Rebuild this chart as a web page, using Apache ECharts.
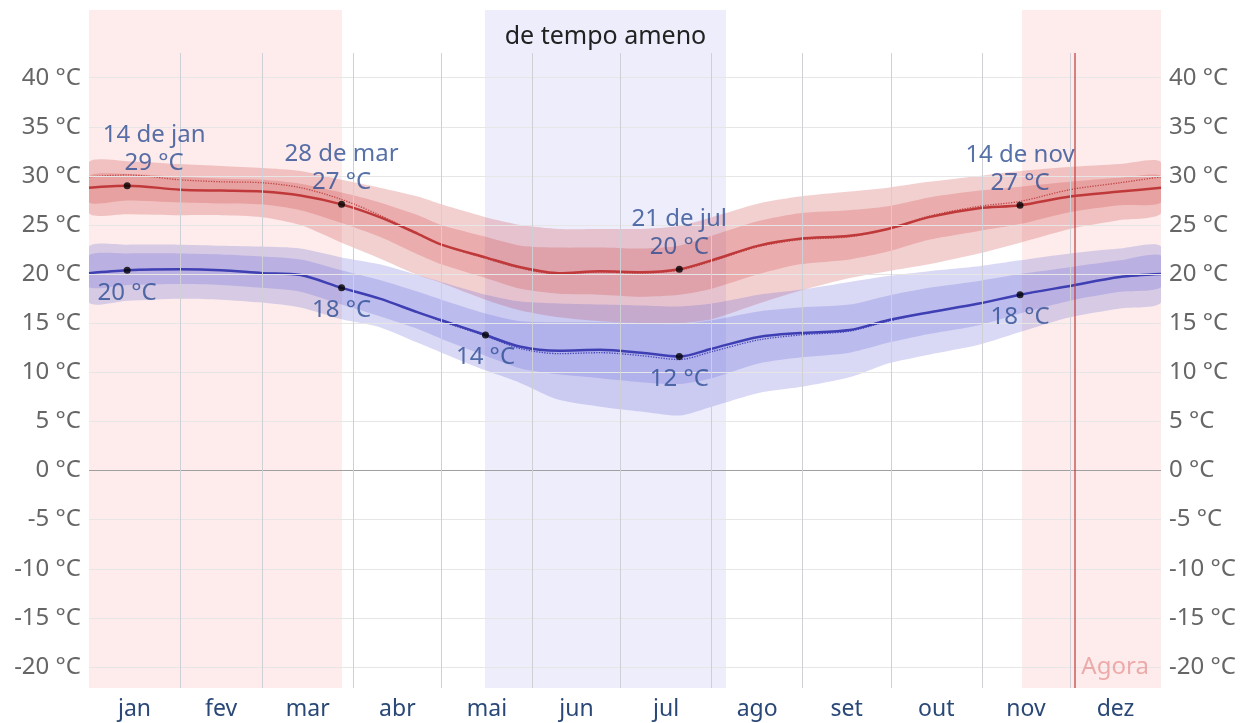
<!DOCTYPE html>
<html>
<head>
<meta charset="utf-8">
<script src="https://cdn.jsdelivr.net/npm/echarts@6.0.0/dist/echarts.min.js"></script>
<style>
html,body{margin:0;padding:0;background:#fff;}
#chart{width:1245px;height:723px;}
</style>
</head>
<body>
<div id="chart"></div>
<script>
// ---- data (day of year) ----
const days      = [0, 13, 31, 45, 59, 72, 86, 99, 112, 120, 135, 147, 160, 174, 188, 201, 212, 228, 242, 259, 272, 286, 303, 317, 334, 351, 365];
const highAvg   = [28.8, 29.0, 28.6, 28.5, 28.4, 28.0, 27.1, 25.8, 24.1, 23.0, 21.7, 20.7, 20.1, 20.3, 20.2, 20.5, 21.4, 22.9, 23.6, 23.9, 24.6, 25.8, 26.7, 27.0, 27.9, 28.4, 28.8];
const highP90   = [31.4, 31.5, 31.2, 31.0, 30.8, 30.5, 29.6, 28.8, 27.9, 27.1, 25.8, 25.0, 24.6, 24.6, 24.6, 24.9, 25.8, 27.2, 27.9, 28.4, 28.8, 29.4, 30.0, 30.5, 30.9, 31.2, 31.4];
const highP75   = [30.0, 30.2, 29.9, 29.7, 29.6, 29.2, 28.3, 27.3, 26.0, 25.0, 23.8, 22.9, 22.7, 22.7, 22.6, 22.9, 23.9, 25.4, 26.2, 26.5, 26.9, 27.8, 28.5, 28.9, 29.4, 29.8, 30.0];
const highP25   = [27.3, 27.5, 27.3, 27.2, 27.1, 26.5, 25.2, 23.8, 22.0, 21.0, 19.6, 18.5, 18.0, 17.9, 17.7, 17.9, 18.5, 20.0, 21.0, 21.5, 22.3, 23.5, 24.4, 25.1, 26.3, 27.0, 27.3];
const highP10   = [26.2, 26.1, 26.0, 26.0, 25.8, 25.0, 23.2, 21.6, 19.9, 19.1, 17.4, 16.3, 15.6, 15.2, 15.0, 15.0, 15.4, 17.0, 18.3, 19.6, 20.3, 21.0, 22.1, 23.2, 24.6, 25.5, 26.2];
const highFeels = [29.9, 30.1, 29.6, 29.4, 29.3, 28.8, 27.6, 26.0, 24.1, 23.0, 21.6, 20.6, 20.0, 20.2, 20.1, 20.4, 21.3, 22.8, 23.5, 23.8, 24.6, 25.9, 26.9, 27.4, 28.6, 29.3, 29.9];

const lowAvg    = [20.1, 20.4, 20.5, 20.4, 20.1, 19.9, 18.6, 17.5, 16.1, 15.3, 13.8, 12.6, 12.2, 12.3, 12.0, 11.6, 12.4, 13.6, 14.0, 14.3, 15.3, 16.1, 17.0, 17.9, 18.8, 19.7, 20.0];
const lowP90    = [22.8, 23.0, 23.0, 22.9, 22.8, 22.6, 21.7, 21.0, 19.9, 19.2, 17.9, 17.2, 17.0, 16.9, 16.8, 16.7, 17.0, 17.9, 18.4, 19.2, 19.8, 20.3, 20.8, 21.4, 22.1, 22.6, 22.8];
const lowP75    = [21.9, 22.1, 22.1, 22.0, 21.8, 21.5, 20.4, 19.4, 18.2, 17.4, 16.0, 15.2, 15.1, 15.1, 15.0, 14.9, 15.3, 16.2, 16.6, 16.9, 17.8, 18.6, 19.3, 20.0, 20.7, 21.4, 21.9];
const lowP25    = [18.7, 18.9, 19.0, 18.9, 18.6, 18.2, 16.9, 15.7, 14.4, 13.4, 11.7, 10.4, 9.8, 9.4, 9.0, 8.8, 9.4, 10.9, 11.5, 12.0, 13.0, 13.9, 14.8, 16.0, 17.3, 18.2, 18.7];
const lowP10    = [17.1, 17.3, 17.5, 17.4, 17.1, 16.6, 15.4, 14.6, 13.0, 12.0, 10.2, 8.9, 7.2, 6.5, 6.0, 5.6, 6.5, 7.9, 8.5, 9.5, 10.9, 11.8, 12.8, 14.1, 15.6, 16.5, 17.1];
const lowFeels  = [20.1, 20.4, 20.5, 20.4, 20.1, 19.9, 18.6, 17.5, 16.1, 15.2, 13.7, 12.4, 11.9, 12.0, 11.7, 11.3, 12.1, 13.3, 13.8, 14.2, 15.2, 16.1, 17.0, 17.9, 18.8, 19.7, 20.0];

const monthNames  = ['jan','fev','mar','abr','mai','jun','jul','ago','set','out','nov','dez'];
const monthStarts = [31, 59, 90, 120, 151, 181, 212, 243, 273, 304, 334];
const monthMids   = [15.5, 45, 74.5, 105, 135.5, 166, 196.5, 227.5, 258, 288.5, 319, 349.5];
const yTicks      = [-20, -15, -10, -5, 0, 5, 10, 15, 20, 25, 30, 35, 40];

const hotSeasons  = [[0, 86.1], [317.7, 365]];
const mildSeason  = [134.8, 216.9];
const mildLabel   = 'de tempo ameno';
const nowDay      = 335.5;
const nowLabel    = 'Agora';

const highMarks = [[13, 29.0, '14 de jan', '29 °C'], [86, 27.1, '28 de mar', '27 °C'], [201, 20.5, '21 de jul', '20 °C'], [317, 27.0, '14 de nov', '27 °C']];
const lowMarks  = [[13, 20.4, '20 °C'], [86, 18.6, '18 °C'], [135, 13.8, '14 °C'], [201, 11.6, '12 °C'], [317, 17.9, '18 °C']];

// ---- chart ----
const Y_MIN = -22.14, Y_MAX = 46.89, GRID_TOP_VAL = 42.5;
const FONT = 'Noto Sans';
const pairs = arr => days.map((d, i) => [d, arr[i]]);

const redBand  = 'rgba(205,60,60,0.24)';
const blueBand = 'rgba(90,90,210,0.23)';

function bandSeries(name, upper, lower, color, z) {
  return {
    name: name, type: 'custom', z: z, silent: true, clip: true,
    data: [[0, 0]],
    renderItem: function (params, api) {
      const pts = [];
      for (let i = 0; i < days.length; i++) pts.push(api.coord([days[i], upper[i]]));
      for (let i = days.length - 1; i >= 0; i--) pts.push(api.coord([days[i], lower[i]]));
      return {type: 'polygon', shape: {points: pts, smooth: 0.25}, style: {fill: color}};
    }
  };
}

const labelStyle = {color: '#2d4e93', fontSize: 24, fontFamily: FONT};

// keep the labels inside the plot area (like the original): shift the first one right
function labelOffset(day) { return day < 20 ? [27, 0] : [0, 0]; }

const option = {
  animation: false,
  backgroundColor: '#ffffff',
  grid: {left: 89, right: 84, top: 10, bottom: 35, containLabel: false},
  xAxis: {
    type: 'value', min: 0, max: 365,
    axisLine: {show: false},
    splitLine: {show: false},
    axisTick: {show: true, customValues: monthStarts, length: 10, lineStyle: {color: '#cfcfd6', width: 1}},
    axisLabel: {
      customValues: monthMids, margin: 10, color: '#2a4877', fontSize: 23, fontFamily: FONT,
      formatter: v => monthNames[monthMids.indexOf(v)] || ''
    }
  },
  yAxis: [0, 1].map(k => ({
    type: 'value', min: Y_MIN, max: Y_MAX, position: k === 0 ? 'left' : 'right',
    axisLine: {show: false}, axisTick: {show: false}, splitLine: {show: false},
    axisLabel: {customValues: yTicks, margin: 8, color: '#666', fontSize: 24, fontFamily: FONT,
      formatter: v => v + ' °C'}
  })),
  series: [
    {
      name: 'bg', type: 'line', data: [], z: 0, silent: true,
      markArea: {
        silent: true,
        data: hotSeasons.map(s => [{xAxis: s[0], itemStyle: {color: '#fdeceb'}}, {xAxis: s[1]}]).concat([
          [{xAxis: mildSeason[0], itemStyle: {color: '#ededfc'},
            label: {show: true, position: 'insideTop', offset: [0, 9], formatter: mildLabel, color: '#222', fontSize: 25, fontFamily: FONT}},
           {xAxis: mildSeason[1]}]
        ])
      }
    },
    {
      name: 'grid', type: 'line', data: [], z: 1, silent: true,
      markLine: {
        silent: true, symbol: ['none', 'none'], label: {show: false},
        data: yTicks.map(v => ({yAxis: v, lineStyle: {color: v === 0 ? '#a0a0a0' : '#e6e6e6', width: 1, type: 'solid'}}))
          .concat(monthStarts.map(d => [
            {coord: [d, GRID_TOP_VAL], lineStyle: {color: '#cfcfd6', width: 1, type: 'solid'}},
            {coord: [d, Y_MIN]}
          ]))
      }
    },
    bandSeries('highOuter', highP90, highP10, redBand, 2),
    bandSeries('highInner', highP75, highP25, redBand, 2),
    bandSeries('lowOuter', lowP90, lowP10, blueBand, 2),
    bandSeries('lowInner', lowP75, lowP25, blueBand, 2),
    {name: 'highFeels', type: 'line', data: pairs(highFeels), symbol: 'none', smooth: 0.3, z: 3, silent: true,
      lineStyle: {color: '#c04848', width: 1.3, type: 'dotted'}},
    {name: 'lowFeels', type: 'line', data: pairs(lowFeels), symbol: 'none', smooth: 0.3, z: 3, silent: true,
      lineStyle: {color: '#4646b8', width: 1.3, type: 'dotted'}},
    {name: 'high', type: 'line', data: pairs(highAvg), symbol: 'none', smooth: 0.3, z: 4, silent: true,
      lineStyle: {color: '#c0393a', width: 2.5}},
    {name: 'low', type: 'line', data: pairs(lowAvg), symbol: 'none', smooth: 0.3, z: 4, silent: true,
      lineStyle: {color: '#3f3fb4', width: 2.5}},
    {
      name: 'now', type: 'scatter', z: 5, silent: true, symbolSize: 0,
      data: [{value: [nowDay, -20], label: {show: true, position: 'right', distance: 7, formatter: nowLabel,
        color: '#e89a9a', fontSize: 24, fontFamily: FONT}}],
      markLine: {silent: true, symbol: ['none', 'none'], label: {show: false},
        data: [[{coord: [nowDay, GRID_TOP_VAL], lineStyle: {color: 'rgba(192,57,58,0.8)', width: 1.5, type: 'solid'}},
                {coord: [nowDay, Y_MIN]}]]}
    },
    {
      name: 'highMarks', type: 'scatter', z: 6, silent: true, symbolSize: 7,
      itemStyle: {color: '#000'},
      data: highMarks.map(m => ({value: [m[0], m[1]],
        label: Object.assign({show: true, position: 'top', distance: 5, lineHeight: 28, align: 'center',
          offset: labelOffset(m[0]), formatter: m[2] + '\n' + m[3]}, labelStyle)}))
    },
    {
      name: 'lowMarks', type: 'scatter', z: 6, silent: true, symbolSize: 7,
      itemStyle: {color: '#000'},
      data: lowMarks.map(m => ({value: [m[0], m[1]],
        label: Object.assign({show: true, position: 'bottom', distance: 5, lineHeight: 28, formatter: m[2]}, labelStyle)}))
    }
  ]
};

const chart = echarts.init(document.getElementById('chart'), null, {renderer: 'canvas'});
chart.setOption(option);
</script>
</body>
</html>
